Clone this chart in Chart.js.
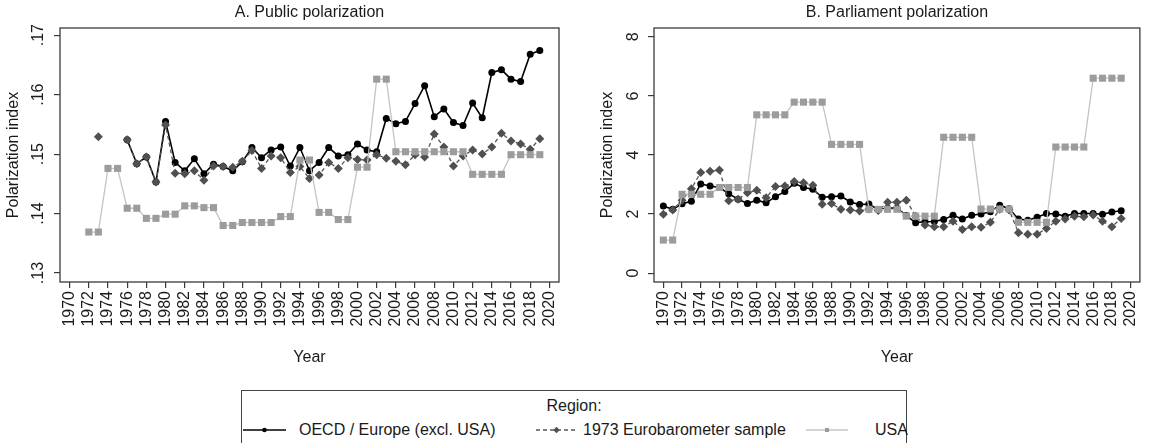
<!DOCTYPE html>
<html>
<head>
<meta charset="utf-8">
<script src="https://cdn.jsdelivr.net/npm/chart.js@4.4.1/dist/chart.umd.min.js"></script>
<style>
  html, body { margin: 0; padding: 0; background: #fff; }
  body { width: 1153px; height: 443px; position: relative; overflow: hidden;
         font-family: "Liberation Sans", Arial, sans-serif; color: #1a1a1a; }
  .panel { position: absolute; top: 0; height: 375px; }
  #wrapA { left: 0; width: 580px; }
  #wrapB { left: 594px; width: 559px; }
  .legend { position: absolute; left: 241px; top: 390px; width: 666px; height: 70px;
            border: 1px solid #444; box-sizing: border-box; font-size: 16px; }
  .legend .head { position: absolute; left: 0; right: 0; top: 6px; text-align: center; line-height: 18px; }
  .legend .item { position: absolute; top: 30px; line-height: 18px; white-space: nowrap; }
  .legend svg { position: absolute; top: 34px; }
</style>
</head>
<body>
<div class="panel" id="wrapA"><canvas id="chartA" width="580" height="375"></canvas></div>
<div class="panel" id="wrapB"><canvas id="chartB" width="559" height="375"></canvas></div>

<div class="legend">
  <div class="head">Region:</div>
  <svg style="left:1px" width="43" height="10">
    <line x1="0" y1="5" x2="43" y2="5" stroke="#000" stroke-width="1.6"/>
    <circle cx="21.5" cy="5" r="2.3" fill="#000"/>
  </svg>
  <div class="item" style="left:57px">OECD / Europe (excl. USA)</div>
  <svg style="left:294px" width="41" height="10">
    <line x1="0" y1="5" x2="41" y2="5" stroke="#555" stroke-width="1.3" stroke-dasharray="4,3"/>
    <polygon points="20.5,1.8 23.7,5 20.5,8.2 17.3,5" fill="#505050"/>
  </svg>
  <div class="item" style="left:341px">1973 Eurobarometer sample</div>
  <svg style="left:564px" width="42" height="10">
    <line x1="0" y1="5" x2="42" y2="5" stroke="#c4c4c4" stroke-width="1.3"/>
    <rect x="19" y="3" width="4" height="4" fill="#9c9c9c"/>
  </svg>
  <div class="item" style="left:633px">USA</div>
</div>

<script>
// ---- data ----------------------------------------------------------------
const yearTicks = [1970,1972,1974,1976,1978,1980,1982,1984,1986,1988,1990,1992,1994,
                   1996,1998,2000,2002,2004,2006,2008,2010,2012,2014,2016,2018,2020];

// Panel A: public polarization, survey years 1972-2019
const yearsA = [1972,1973,1974,1975,1976,1977,1978,1979,1980,1981,1982,1983,1984,1985,1986,1987,
                1988,1989,1990,1991,1992,1993,1994,1995,1996,1997,1998,1999,2000,2001,2002,2003,
                2004,2005,2006,2007,2008,2009,2010,2011,2012,2013,2014,2015,2016,2017,2018,2019];
const publicOecd = [null,null,null,null,.1524,.1484,.1495,.1453,.1555,.1486,.1472,.1492,.1467,.1483,.1479,.1472,
                    .1487,.1511,.1494,.1507,.1512,.1480,.1511,.1472,.1486,.1511,.1497,.1499,.1517,.1507,.1504,.1560,
                    .1551,.1555,.1585,.1615,.1563,.1576,.1553,.1548,.1586,.1561,.1637,.1642,.1626,.1622,.1668,.1674];
const publicEuro = [null,.1529,null,null,.1524,.1484,.1495,.1453,.1549,.1468,.1467,.1472,.1456,.1480,.1479,.1478,
                    .1488,.1506,.1476,.1497,.1494,.1469,.1479,.1459,.1465,.1486,.1476,.1494,.1491,.1490,.1499,.1493,
                    .1488,.1482,.1499,.1495,.1534,.1512,.1480,.1497,.1507,.1500,.1512,.1535,.1522,.1517,.1508,.1526];
const publicUsa  = [.1369,.1369,.1476,.1476,.1409,.1409,.1392,.1392,.1399,.1399,.1413,.1413,.1410,.1410,.1380,.1380,
                    .1385,.1385,.1385,.1385,.1395,.1395,.1490,.1490,.1402,.1402,.1390,.1390,.1478,.1478,.1626,.1626,
                    .1504,.1504,.1504,.1504,.1504,.1504,.1504,.1504,.1466,.1466,.1466,.1466,.1499,.1499,.1499,.1499];
const publicTicks = [.13,.14,.15,.16,.17];

// Panel B: parliament polarization, 1970-2019
const yearsB = [1970,1971,1972,1973,1974,1975,1976,1977,1978,1979,1980,1981,1982,1983,1984,1985,1986,1987,
                1988,1989,1990,1991,1992,1993,1994,1995,1996,1997,1998,1999,2000,2001,2002,2003,2004,2005,
                2006,2007,2008,2009,2010,2011,2012,2013,2014,2015,2016,2017,2018,2019];
const parlOecd = [2.27,2.16,2.35,2.43,3.02,2.95,2.90,2.69,2.50,2.36,2.47,2.38,2.59,2.76,3.04,2.90,2.84,2.57,
                  2.59,2.61,2.41,2.32,2.34,2.15,2.20,2.20,1.95,1.71,1.74,1.75,1.82,1.96,1.83,1.96,2.00,2.08,
                  2.30,2.18,1.83,1.79,1.89,2.02,2.00,1.93,2.02,2.02,2.02,1.99,2.07,2.11];
const parlEuro = [1.99,2.14,2.47,2.86,3.41,3.45,3.49,2.45,2.50,2.72,2.81,2.55,2.93,2.95,3.10,3.06,2.98,2.33,
                  2.36,2.16,2.14,2.10,2.17,2.12,2.40,2.40,2.47,1.93,1.63,1.57,1.57,1.76,1.48,1.57,1.55,1.72,
                  2.16,2.14,1.37,1.32,1.32,1.51,1.76,1.83,1.93,1.91,1.97,1.76,1.57,1.85];
const parlUsa  = [1.12,1.12,2.67,2.67,2.67,2.67,2.90,2.90,2.90,2.90,5.36,5.36,5.36,5.36,5.79,5.79,5.79,5.79,
                  4.36,4.36,4.36,4.36,2.16,2.16,2.16,2.16,1.93,1.93,1.93,1.93,4.60,4.60,4.60,4.60,2.17,2.17,
                  2.17,2.17,1.72,1.72,1.72,1.72,4.27,4.27,4.27,4.27,6.60,6.60,6.60,6.60];
const parlTicks = [0,2,4,6,8];

// ---- helpers -------------------------------------------------------------
Chart.defaults.font.family = '"Liberation Sans", Arial, sans-serif';
Chart.defaults.font.size = 16;
Chart.defaults.color = '#1a1a1a';

const pts = (xs, ys) => xs.map((x, i) => ({ x: x, y: ys[i] }));

// box around the plot region
const framePlugin = {
  id: 'frame',
  afterDraw(chart) {
    const { ctx, chartArea: a } = chart;
    ctx.save();
    ctx.strokeStyle = '#3a3a3a';
    ctx.lineWidth = 1.3;
    ctx.strokeRect(a.left, a.top, a.right - a.left, a.bottom - a.top);
    ctx.restore();
  }
};

function series(years, oecd, euro, usa) {
  return [
    { label: 'OECD / Europe (excl. USA)', data: pts(years, oecd), order: 3,
      borderColor: '#000', borderWidth: 1.6, pointStyle: 'circle', pointRadius: 3.5,
      pointBackgroundColor: '#000', pointBorderColor: '#000', pointBorderWidth: 0 },
    { label: '1973 Eurobarometer sample', data: pts(years, euro), order: 2,
      borderColor: '#555', borderWidth: 1.3, borderDash: [4, 3], pointStyle: 'rectRot', pointRadius: 4.5,
      pointBackgroundColor: '#505050', pointBorderColor: '#505050', pointBorderWidth: 0 },
    { label: 'USA', data: pts(years, usa), order: 1,
      borderColor: '#c4c4c4', borderWidth: 1.3, pointStyle: 'rect', pointRadius: 5,
      pointBackgroundColor: '#9c9c9c', pointBorderColor: '#9c9c9c', pointBorderWidth: 0 }
  ];
}

function makeChart(id, title, datasets, yMin, yMax, yTicks, yFmt, labelPad, rightPad) {
  return new Chart(document.getElementById(id), {
    type: 'line',
    data: { datasets: datasets },
    plugins: [framePlugin],
    options: {
      responsive: false, animation: false,
      layout: { padding: { left: 0, right: rightPad, top: 0, bottom: 0 } },
      plugins: {
        legend: { display: false },
        tooltip: { enabled: false },
        title: { display: true, text: title, fullSize: false, color: '#1a1a1a',
                 font: { size: 16, weight: 'normal', lineHeight: 1.25 }, padding: { top: 3, bottom: 5 } }
      },
      scales: {
        x: {
          type: 'linear', min: 1969, max: 2021,
          afterBuildTicks: s => { s.ticks = yearTicks.map(v => ({ value: v })); },
          afterFit: s => { s.height = 93; },
          border: { display: false },
          grid: { drawOnChartArea: false, drawTicks: true, tickLength: 6, color: '#3a3a3a', lineWidth: 1.2 },
          ticks: { minRotation: 90, maxRotation: 90, autoSkip: false, padding: 3,
                   color: '#1a1a1a', callback: v => String(v) },
          title: { display: true, text: 'Year', color: '#1a1a1a',
                   font: { size: 16, lineHeight: 1.25 }, padding: { top: 0, bottom: 7 } }
        },
        y: {
          min: yMin, max: yMax,
          afterBuildTicks: s => { s.ticks = yTicks.map(v => ({ value: v })); },
          afterFit: s => { s.width = 60; },
          border: { display: false },
          grid: { drawOnChartArea: false, drawTicks: true, tickLength: 6, color: '#3a3a3a', lineWidth: 1.2 },
          ticks: { minRotation: 90, maxRotation: 90, crossAlign: 'center', padding: labelPad,
                   color: '#1a1a1a', callback: yFmt },
          title: { display: true, text: 'Polarization index', color: '#1a1a1a',
                   font: { size: 16, lineHeight: 1.25 }, padding: { top: 4, bottom: 0 } }
        }
      }
    }
  });
}

makeChart('chartA', 'A. Public polarization', series(yearsA, publicOecd, publicEuro, publicUsa),
          0.1285, 0.1712, publicTicks, v => v.toFixed(2).replace(/^0/, ''), 4, 21);
makeChart('chartB', 'B. Parliament polarization', series(yearsB, parlOecd, parlEuro, parlUsa),
          -0.3, 8.3, parlTicks, v => String(v), 9.5, 1);
</script>
</body>
</html>
